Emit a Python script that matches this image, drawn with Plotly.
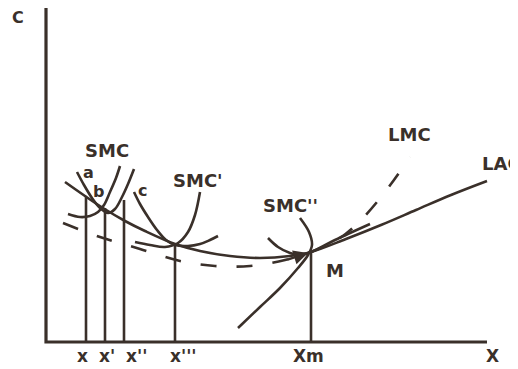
import plotly.graph_objects as go

# Coordinates measured from the origin of the diagram (output X rightwards, cost C upwards)
lac_x = [19, 39, 57, 79, 99, 129, 154, 184, 214, 244, 265, 300, 335, 370, 405, 441]
lac_y = [160, 146, 134, 121, 111, 98, 91, 86, 84, 86, 90, 103, 117, 132, 147, 161]

lmc_x = [17, 54, 94, 134, 169, 204, 239, 265, 294, 314, 339, 364]
lmc_y = [119, 105, 93, 81, 76, 76, 82, 90, 104, 121, 150, 185]

smc1_x = [22, 34, 44, 52, 58, 64, 70, 74]
smc1_y = [128, 125, 126, 130, 137, 150, 164, 176]

sac1_x = [31, 38, 46, 54, 62, 69, 76, 82, 88]
sac1_y = [170, 157, 144, 134, 129, 133, 145, 158, 173]

sac2_x = [88, 94, 102, 111, 120, 129, 142, 154, 164, 172]
sac2_y = [150, 138, 125, 112, 102, 97, 96, 98, 102, 106]

smc2_x = [89, 104, 119, 132, 142, 149, 154]
smc2_y = [100, 97, 95, 99, 110, 127, 150]

sac3_x = [222, 232, 244, 254, 265, 289, 324]
sac3_y = [104, 95, 89, 87, 90, 102, 118]

smc3_x = [192, 214, 234, 252, 262, 266, 263, 254]
smc3_y = [14, 35, 54, 74, 87, 97, 110, 124]

vline_x = [40, 59, 78, 129, 265]
vline_top = [145, 134, 142, 97, 90]
tick_labels = ["x", "x'", "x''", "x'''", "Xm"]
tick_label_x = [36, 61, 90, 137, 262]

axis_x_end = 441
axis_y_end = 335

INK = "#3a302a"

fig = go.Figure()

def curve(xs, ys, dash="solid", width=2.6):
    fig.add_trace(go.Scatter(x=xs, y=ys, mode="lines",
                             line=dict(color=INK, width=width, shape="spline", dash=dash),
                             hoverinfo="skip", showlegend=False))

# axes
fig.add_trace(go.Scatter(x=[0, 0, axis_x_end], y=[axis_y_end, 0, 0], mode="lines",
                         line=dict(color=INK, width=3.2), hoverinfo="skip", showlegend=False))
# vertical output lines
for vx, vt in zip(vline_x, vline_top):
    fig.add_trace(go.Scatter(x=[vx, vx], y=[0, vt], mode="lines",
                             line=dict(color=INK, width=2.6), hoverinfo="skip", showlegend=False))

curve(lac_x, lac_y)
curve(lmc_x, lmc_y, dash="16px,20px")
curve(smc1_x, smc1_y)
curve(sac1_x, sac1_y)
curve(sac2_x, sac2_y)
curve(smc2_x, smc2_y)
curve(sac3_x, sac3_y)
curve(smc3_x, smc3_y)

font_big = dict(family="DejaVu Sans", size=18, color=INK)
font_mid = dict(family="DejaVu Sans", size=17, color=INK)
font_small = dict(family="DejaVu Sans", size=16, color=INK)

ann = []
def label(text, x, y, font, xanchor="center"):
    ann.append(dict(x=x, y=y, text="<b>" + text + "</b>", showarrow=False, font=font,
                    xanchor=xanchor, yanchor="middle", xref="x", yref="y"))

label("C", -28, 325, font_small)
label("SMC", 61, 192, font_big)
label("a", 42, 170, font_small)
label("b", 52, 151, font_small)
label("c", 96, 152, font_small)
label("SMC'", 152, 162, font_big)
label("SMC''", 244, 137, font_big)
label("LMC", 363, 208, font_big)
label("LAC", 434, 179, font_big, xanchor="left")
label("M", 289, 72, font_big)
for t, lx in zip(tick_labels, tick_label_x):
    label(t, lx, -14, font_mid)
label("X", 446, -14, font_mid)

# arrowhead on LMC approaching M
ann.append(dict(x=262, y=89, ax=240, ay=82, xref="x", yref="y", axref="x", ayref="y",
                showarrow=True, arrowhead=2, arrowsize=1.2, arrowwidth=2.4, arrowcolor=INK, text=""))

# the page body has an 8px margin, so the ranges are shifted by 8 units to compensate
fig.update_layout(
    width=518, height=369, autosize=False,
    margin=dict(l=0, r=0, t=0, b=0),
    paper_bgcolor="white", plot_bgcolor="white",
    xaxis=dict(range=[-38, 480], visible=False, fixedrange=True),
    yaxis=dict(range=[-35, 334], visible=False, fixedrange=True),
    annotations=ann,
)

fig.write_html("out.html")
